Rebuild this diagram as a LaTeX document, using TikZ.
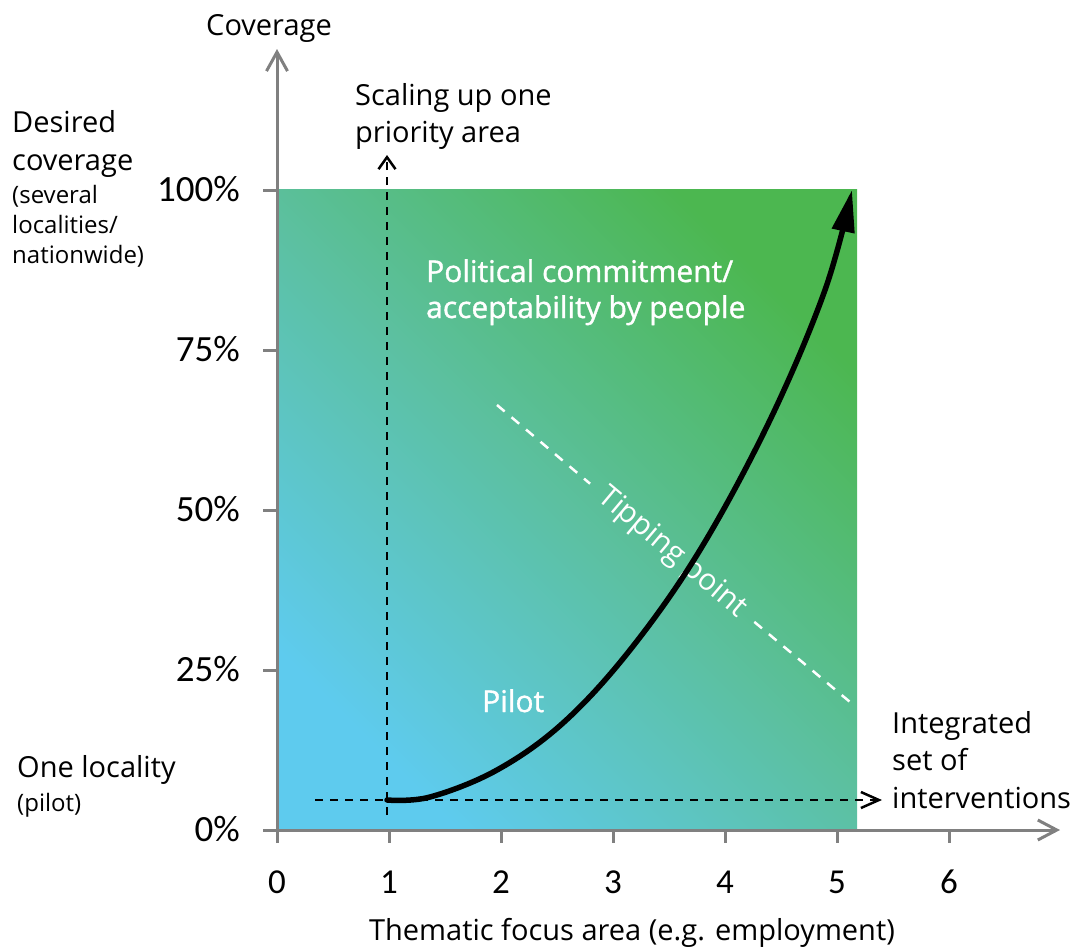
\documentclass[tikz,border=0pt]{standalone}
\usepackage{fontspec}
\setmainfont{Open Sans}
\newfontfamily\numfont{Carlito}
\newfontfamily\semib[FakeBold=1.2]{Open Sans}
\usetikzlibrary{arrows.meta}
\definecolor{axisgray}{RGB}{128,128,128}
\definecolor{gblue}{RGB}{94,203,238}
\definecolor{gmid}{RGB}{92,192,160}
\definecolor{ggreen}{RGB}{76,183,80}
\tikzset{
  lbl/.style={inner sep=0pt, font=\fontsize{29}{35}\selectfont},
  sml/.style={inner sep=0pt, font=\fontsize{24}{30}\selectfont},
  wlbl/.style={inner sep=0pt, text=white, font=\semib\fontsize{30}{36}\selectfont},
  num/.style={inner sep=0pt, font=\numfont\fontsize{37}{44}\selectfont},
  xnum/.style={inner sep=0pt, font=\numfont\fontsize{35}{42}\selectfont},
  axisline/.style={draw=axisgray, line width=3pt},
  dblack/.style={draw=black, line width=2.5pt, dash pattern=on 8pt off 7pt},
  dwhite/.style={draw=white, line width=2.5pt, dash pattern=on 10pt off 9pt},
}
\begin{document}
\begin{tikzpicture}[x=1pt,y=-1pt]
\useasboundingbox (0,0) rectangle (1076,948);
% shaded area
\shade[bottom color=gblue, top color=ggreen, middle color=gmid, shading angle=-45] (277,189) rectangle (857,830);
% axes
\coordinate (O) at (277,830);
\coordinate (xend) at (1060,830);
\coordinate (ybot) at (277,843);
\coordinate (yend) at (277,49);
\draw[axisline, -{Straight Barb[length=19pt,width=21pt]}] (ybot) -- (yend);
\draw[axisline, -{Straight Barb[length=19pt,width=20pt]}] (O) -- (xend);
\foreach \i in {0,...,6} {
  \coordinate (xt\i) at (277+112*\i,830);
  \coordinate (xb\i) at (277+112*\i,843);
  \draw[axisline] (xt\i) -- (xb\i);
  \node[xnum] (xl\i) at (277+112*\i,882) {\i};
}
\foreach \y/\t in {190/100\%,350/75\%,510/50\%,670/25\%,830/0\%} {
  \coordinate (yt\y) at (263,\y);
  \coordinate (yr\y) at (277,\y);
  \draw[axisline] (yt\y) -- (yr\y);
  \node[num, anchor=east] (yl\y) at (240,\y-1) {\t};
}
% dashed black guides
\coordinate (vbot) at (387,815);
\coordinate (vtop) at (387,155);
\draw[dblack, -{Straight Barb[length=12pt,width=17pt]}] (vbot) -- (vtop);
\coordinate (hstart) at (315,800);
\coordinate (hend) at (882,800);
\draw[dblack, -{Straight Barb[length=18pt,width=16pt]}] (hstart) -- (hend);
% tipping point line
\coordinate (tA) at (497,405);
\coordinate (tB) at (850,702);
\node[inner xsep=15pt, inner ysep=0pt, text=white, font=\fontsize{30}{36}\selectfont, rotate=-40] (tp) at (672,553) {Tipping point};
\draw[dwhite] (tA) -- (tp);
\draw[dwhite] (tp) -- (tB);
% curve
\coordinate (cs) at (387,800);
\coordinate (ce) at (852,190);
\draw[line width=5.5pt, line cap=round, -{Triangle[length=42pt,width=22pt]}]
  plot[smooth, tension=0.6] coordinates {(cs) (430,797) (497,770) (563,723) (630,650) (700,550) (770,420) (825,290) (ce)};
% texts
\node[lbl, anchor=base] (cov) at (269,35) {Coverage};
\node[lbl, anchor=base west] (d1) at (12,132) {Desired};
\node[lbl, anchor=base west] (d2) at (12,170) {coverage};
\node[sml, anchor=base west] (d3) at (12,203) {(several};
\node[sml, anchor=base west] (d4) at (12,233) {localities/};
\node[sml, anchor=base west] (d5) at (12,263) {nationwide)};
\node[lbl, anchor=base west] (s1) at (355,105) {Scaling up one};
\node[lbl, anchor=base west] (s2) at (355,142) {priority area};
\node[wlbl, anchor=base west] (p1) at (426,282) {Political commitment/};
\node[wlbl, anchor=base west] (p2) at (426,318) {acceptability by people};
\node[wlbl, anchor=base west] (pil) at (482,712) {Pilot};
\node[lbl, anchor=base west] (i1) at (892,733) {Integrated};
\node[lbl, anchor=base west] (i2) at (892,770) {set of};
\node[lbl, anchor=base west] (i3) at (892,808) {interventions};
\node[lbl, anchor=base west] (o1) at (17,777) {One locality};
\node[sml, anchor=base west] (o2) at (17,811) {(pilot)};
\node[lbl, anchor=base] (tfa) at (632,940) {Thematic focus area (e.g. employment)};
\end{tikzpicture}
\end{document}
